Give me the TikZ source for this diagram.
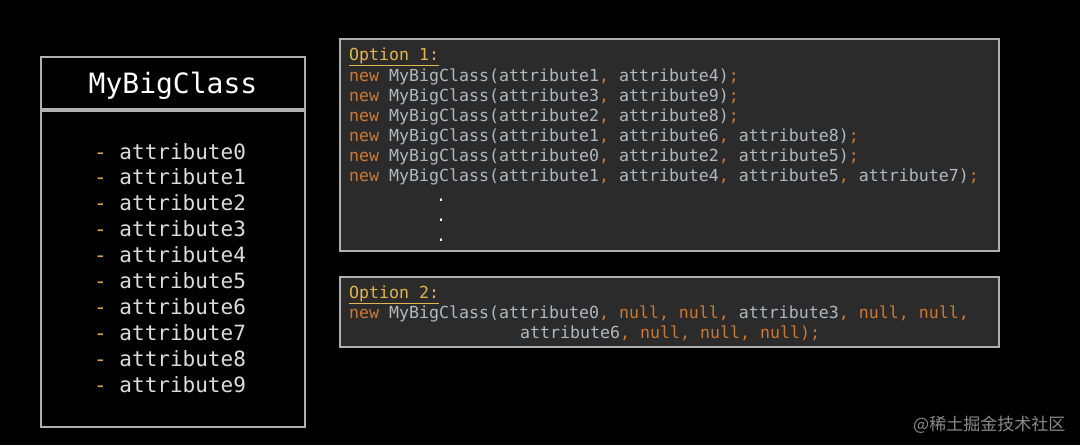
\documentclass[tikz,border=0pt]{standalone}
\usepackage{fontspec}
\usepackage{xcolor}
\setmonofont{DejaVu Sans Mono}
\newfontfamily\cjkfont{Noto Sans CJK SC}
\definecolor{boxline}{HTML}{B0B0B0}
\definecolor{codebg}{HTML}{2B2B2B}
\definecolor{kw}{HTML}{CC7832}
\definecolor{plain}{HTML}{B4B8BC}
\definecolor{head}{HTML}{E2B54E}
\definecolor{attr}{HTML}{DCDCDC}
\definecolor{dashc}{HTML}{D9A441}
\definecolor{wm}{HTML}{8A8A8A}
\newcommand\kwd[1]{\textcolor{kw}{#1}}
\tikzset{
  umlbox/.style={draw=boxline, line width=2.5pt, fill=black},
  codebox/.style={draw=boxline, line width=2.5pt, fill=codebg},
  attrtxt/.style={anchor=base west, inner sep=0pt, text=attr, font=\ttfamily\fontsize{21}{25}\selectfont},
  codetxt/.style={anchor=base west, inner sep=0pt, text=plain, font=\ttfamily\fontsize{16.6}{20}\selectfont},
  headtxt/.style={codetxt, text=head},
}
\begin{document}
\begin{tikzpicture}[x=1pt,y=-1pt]
\fill[black] (0,0) rectangle (1080,445);
\useasboundingbox (0,0) rectangle (1080,445);
% class box
\draw[umlbox] (41,57) rectangle (305,109);
\draw[umlbox] (41,111) rectangle (305,427);
\node[anchor=base, inner sep=0pt, text=white, font=\ttfamily\fontsize{28}{32}\selectfont] (title) at (173,93) {MyBigClass};
\foreach \i in {0,...,9} {
  \node[attrtxt] (attr\i) at (94,{159+25.9*\i}) {\textcolor{dashc}{-} attribute\i};
}
% option 1
\draw[codebox] (340,39) rectangle (999,251);
\node[headtxt] (opt1) at (349,60) {\underline{Option 1:}};
\node[codetxt] (l1) at (349,81) {\kwd{new} MyBigClass(attribute1\kwd{,} attribute4)\kwd{;}};
\node[codetxt] (l2) at (349,101) {\kwd{new} MyBigClass(attribute3\kwd{,} attribute9)\kwd{;}};
\node[codetxt] (l3) at (349,121) {\kwd{new} MyBigClass(attribute2\kwd{,} attribute8)\kwd{;}};
\node[codetxt] (l4) at (349,141) {\kwd{new} MyBigClass(attribute1\kwd{,} attribute6\kwd{,} attribute8)\kwd{;}};
\node[codetxt] (l5) at (349,161) {\kwd{new} MyBigClass(attribute0\kwd{,} attribute2\kwd{,} attribute5)\kwd{;}};
\node[codetxt] (l6) at (349,181) {\kwd{new} MyBigClass(attribute1\kwd{,} attribute4\kwd{,} attribute5\kwd{,} attribute7)\kwd{;}};
\node[codetxt, text=white] (d1) at (436,201) {.};
\node[codetxt, text=white] (d2) at (436,221) {.};
\node[codetxt, text=white] (d3) at (436,241) {.};
% option 2
\draw[codebox] (340,277) rectangle (999,347);
\node[headtxt] (opt2) at (349,298) {\underline{Option 2:}};
\node[codetxt] (m1) at (349,318) {\kwd{new} MyBigClass(attribute0\kwd{, null, null,} attribute3\kwd{, null, null,}};
\node[codetxt] (m2) at (520,338) {attribute6\kwd{, null, null, null);}};
% watermark
\node[anchor=base west, inner sep=0pt, text=wm, font=\cjkfont\fontsize{17}{20}\selectfont] (wm) at (913,430) {@稀土掘金技术社区};
\end{tikzpicture}
\end{document}
